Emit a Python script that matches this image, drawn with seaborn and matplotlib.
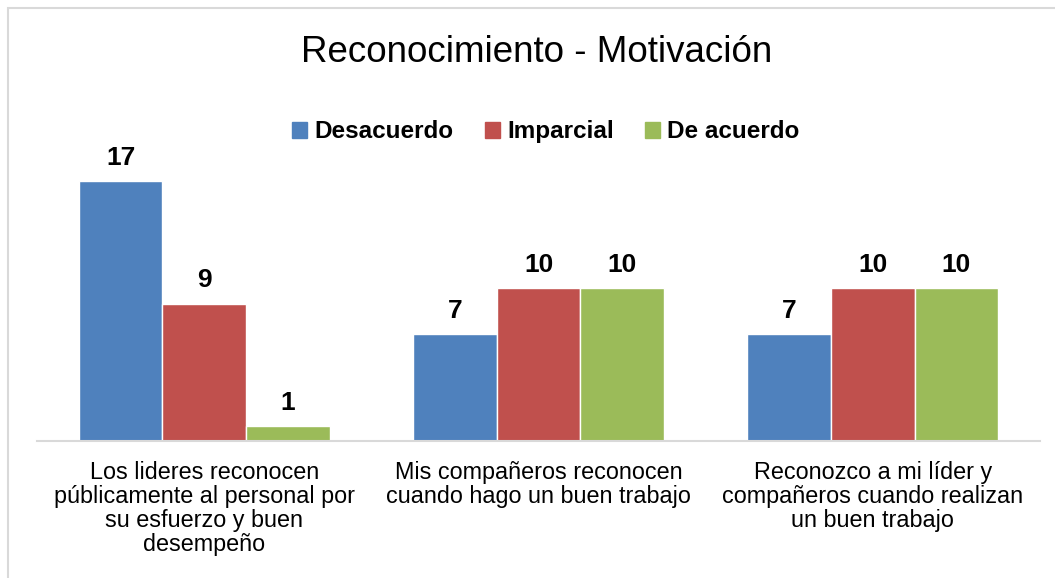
import numpy as np
import matplotlib
matplotlib.use("Agg")
import matplotlib.pyplot as plt
import pandas as pd
import seaborn as sns
from matplotlib.patches import Rectangle

categorias = ["Los lideres reconocen\npúblicamente al personal por\nsu esfuerzo y buen\ndesempeño",
              "Mis compañeros reconocen\ncuando hago un buen trabajo",
              "Reconozco a mi líder y\ncompañeros cuando realizan\nun buen trabajo"]
respuestas = ["Desacuerdo", "Imparcial", "De acuerdo"]
desacuerdo = [17, 7, 7]
imparcial = [9, 10, 10]
de_acuerdo = [1, 10, 10]
colores = ["#4F81BD", "#C0504D", "#9BBB59"]

df = pd.DataFrame({
    "Categoria": categorias * 3,
    "Respuesta": [r for r in respuestas for _ in categorias],
    "Valor": desacuerdo + imparcial + de_acuerdo,
})

sns.set_style("white")
plt.rcParams['font.family'] = ['Liberation Sans', 'DejaVu Sans']
plt.rcParams['text.color'] = 'black'
plt.rcParams['xtick.color'] = 'black'

fig = plt.figure(figsize=(10.55, 5.78), dpi=100)
ax = fig.add_axes([37/1055, (578-441)/578, (1040-37)/1055, (441-166)/578])

sns.barplot(data=df, x="Categoria", y="Valor", hue="Respuesta", hue_order=respuestas,
            palette=colores, width=0.75, saturation=1, ax=ax, legend=False)

for cont in ax.containers:
    ax.bar_label(cont, fmt="%d", padding=8, fontsize=19, fontweight="bold",
                 color="black", clip_on=False)

ax.set_ylim(0, 18)
ax.set_xlim(-0.5, 2.5)
ax.set_yticks([])
ax.set_xlabel("")
ax.set_ylabel("")
for s in ["top", "right", "left"]:
    ax.spines[s].set_visible(False)
ax.spines["bottom"].set_color("#D9D9D9")
ax.spines["bottom"].set_linewidth(1.5)
ax.tick_params(axis="x", length=0, pad=14.5, labelsize=16.8, labelcolor="black")
for lbl in ax.get_xticklabels():
    lbl.set_ha("center")
    lbl.set_linespacing(1.06)

# leyenda
handles = [Rectangle((0, 0), 1, 1, color=c) for c in colores]
fig.legend(handles, respuestas, loc="center", bbox_to_anchor=(546/1055, 1 - 132/578),
           ncol=3, frameon=False, prop={"size": 17.5, "weight": "bold"},
           handlelength=0.6, handleheight=0.6, handletextpad=0.3, columnspacing=1.3)

fig.text(537/1055, 1 - 52/578, "Reconocimiento - Motivación", ha="center", va="center",
         fontsize=26.5, color="black")

# marco del gráfico
fig.patches.append(Rectangle((8/1055, -0.1), 1.2, 1 - 8/578 + 0.1, transform=fig.transFigure,
                             fill=False, edgecolor="#D9D9D9", linewidth=1.5))

fig.savefig("out.png", dpi=100)
